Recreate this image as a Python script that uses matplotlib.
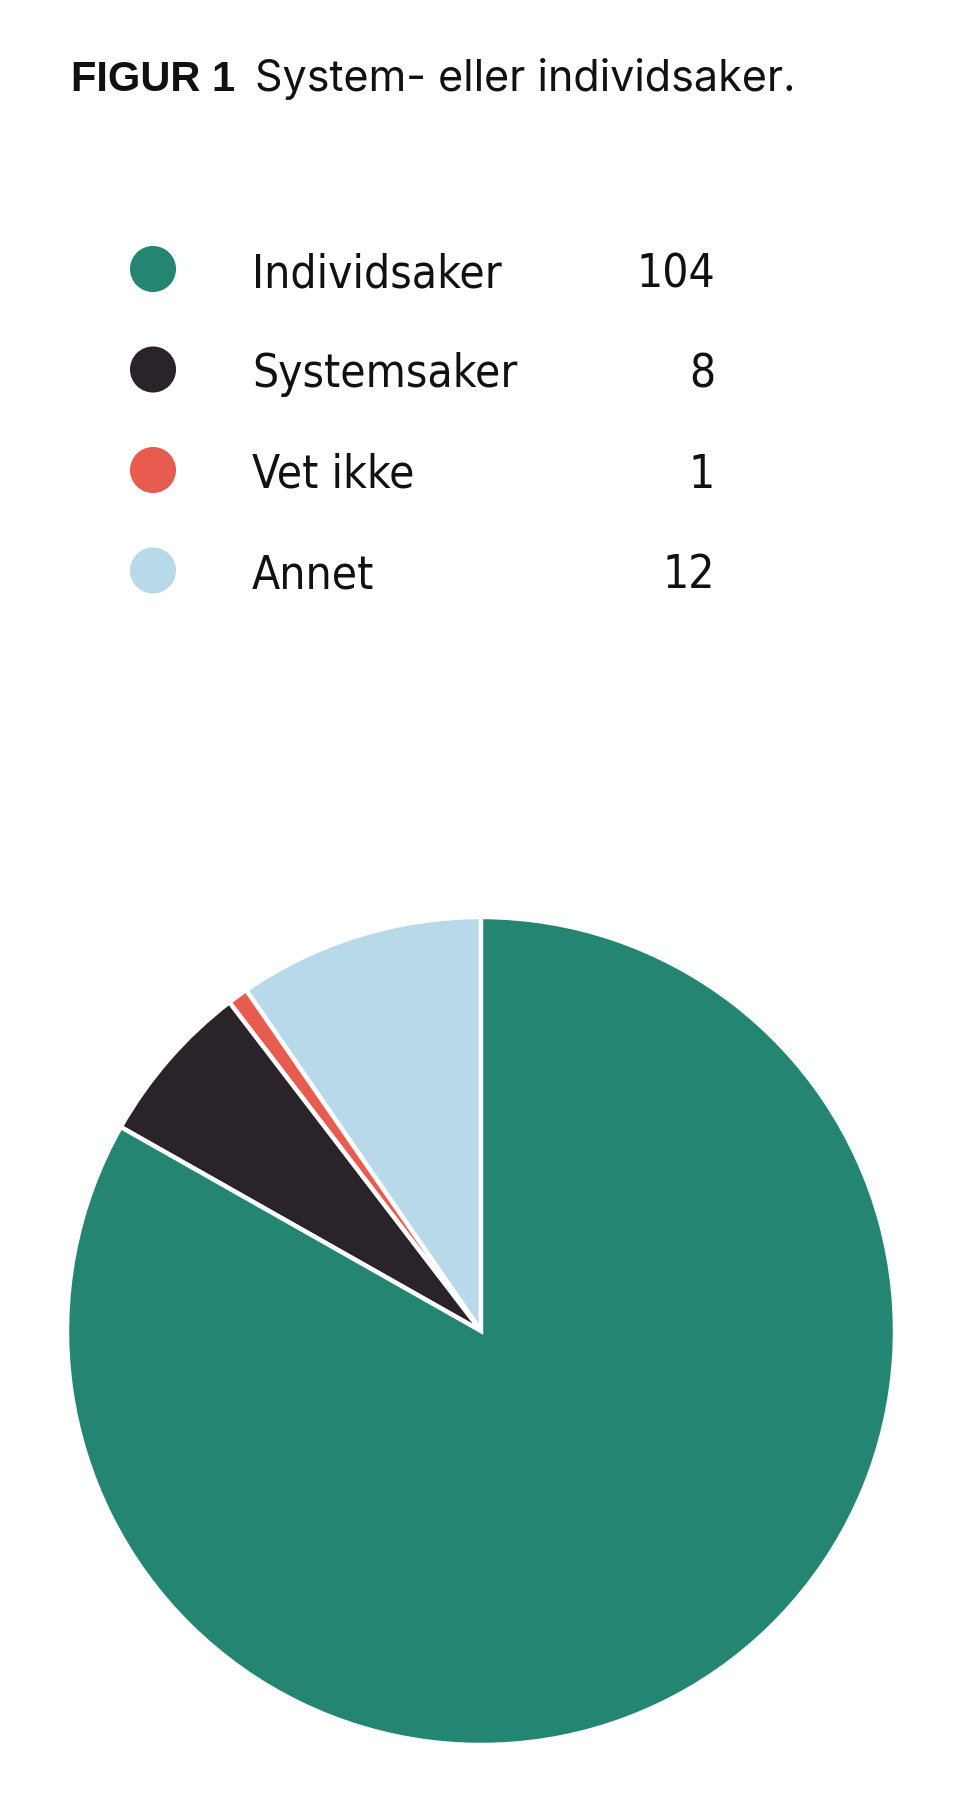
import matplotlib.pyplot as plt
from matplotlib import font_manager

# data
labels = ['Individsaker', 'Systemsaker', 'Vet ikke', 'Annet']
counts = [104, 8, 1, 12]
colors = ['#248572', '#2a2329', '#e85c50', '#b8d9ea']

fp = font_manager.FontProperties(family='DejaVu Sans', stretch='condensed', size=33)
print(font_manager.findfont(fp))

fig = plt.figure(figsize=(9.6, 18.06), dpi=100)
W, H = 960, 1806

# full-figure axes in pixel units for title and legend
ax = fig.add_axes([0, 0, 1, 1])
ax.set_xlim(0, W)
ax.set_ylim(H, 0)
ax.axis('off')

ax.text(71, 91, 'FIGUR 1', fontsize=30, fontweight='bold',
        family='Liberation Sans', ha='left', va='baseline', color='#111111')
ax.text(255, 91, 'System- eller individsaker.', fontsize=31,
        family='Inter', ha='left', va='baseline', color='#111111')

# legend rows
for i, (lab, n, c) in enumerate(zip(labels, counts, colors)):
    yc = 270 + i * 100.5
    ax.scatter([153], [yc], s=46**2 * 0.52, color=c, edgecolors='none')
    ax.text(252, yc + 17, lab, fontproperties=fp,
            ha='left', va='baseline', color='#111111')
    ax.text(715, yc + 17, str(n), fontproperties=fp,
            ha='right', va='baseline', color='#111111')

# pie
cx, cy, r = 481, 1332, 414
pax = fig.add_axes([(cx - r) / W, (H - cy - r) / H, 2 * r / W, 2 * r / H])
pax.pie(counts[::-1], colors=colors[::-1], startangle=90, counterclock=True,
        radius=1, wedgeprops=dict(edgecolor='white', linewidth=3.2))
pax.set_xlim(-1, 1)
pax.set_ylim(-1, 1)
pax.set_aspect('equal')

fig.savefig('out.png', dpi=100)
